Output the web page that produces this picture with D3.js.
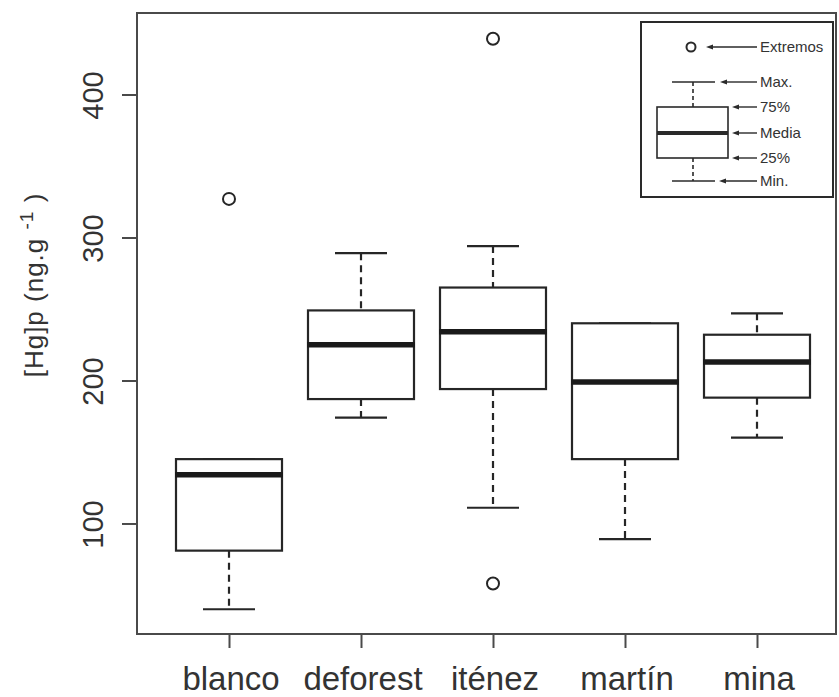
<!DOCTYPE html>
<html>
<head>
<meta charset="utf-8">
<script src="https://cdn.jsdelivr.net/npm/d3@7"></script>
<style>
    body { margin: 0; background: #fff; }
    svg { display: block; }
    text { font-family: "Liberation Sans", Arial, Helvetica, sans-serif; fill: #333; }
</style>
</head>
<body>
<div id="chart"></div>
<script>
// data
const categories = ['blanco', 'deforest', 'iténez', 'martín', 'mina'];
const minValues = [40, 174, 111, 89, 160];
const q1Values = [81, 187, 194, 145, 188];
const medianValues = [134, 225, 234, 199, 213];
const q3Values = [145, 249, 265, 240, 232];
const maxValues = [145, 289, 294, 240, 247];
const outlierValues = [[327], [], [58, 439], [], []];
const yTicks = [100, 200, 300, 400];
const legendLabels = ['Extremos', 'Max.', '75%', 'Media', '25%', 'Min.'];

class BoxPlotChart {
    constructor() {
        this._width = 839;
        this._height = 697;
        this._yTitle = '[Hg]p (ng.g';

        // plot frame
        this._frame = { top: 13, right: 836, bottom: 634, left: 137 };
    }

    call(selection) {
        let outerThis = this;
        let f = outerThis._frame;

        let rows = categories.map((c, i) => ({
            name: c,
            min: minValues[i],
            q1: q1Values[i],
            median: medianValues[i],
            q3: q3Values[i],
            max: maxValues[i],
            outliers: outlierValues[i]
        }));

        let xScale = d3.scalePoint().domain(categories).range([229, 757]);
        let yScale = d3.scaleLinear().domain([22.7, 457]).range([f.bottom, f.top]);
        let boxHalf = 53;
        let capHalf = 26;

        let svg = selection.append('svg')
            .attr('width', outerThis._width)
            .attr('height', outerThis._height);

        // frame
        svg.append('rect')
            .attr('x', f.left)
            .attr('y', f.top)
            .attr('width', f.right - f.left)
            .attr('height', f.bottom - f.top)
            .attr('fill', 'none')
            .attr('stroke', '#4a4a4a')
            .attr('stroke-width', 2);

        // x axis
        let xAxis = d3.axisBottom(xScale).tickSize(14).tickPadding(0).tickFormat('');
        let xAxisG = svg.append('g')
            .attr('transform', `translate(0, ${f.bottom})`)
            .call(xAxis);
        xAxisG.select('.domain').remove();
        xAxisG.selectAll('line').attr('stroke', '#4a4a4a').attr('stroke-width', 2);

        svg.append('g').selectAll('text')
            .data(categories)
            .join('text')
            .attr('x', d => xScale(d) + 2)
            .attr('y', 690)
            .attr('text-anchor', 'middle')
            .style('font-size', '33px')
            .text(d => d);

        // y axis
        let yAxis = d3.axisLeft(yScale).tickValues(yTicks).tickSize(15).tickFormat('');
        let yAxisG = svg.append('g')
            .attr('transform', `translate(${f.left}, 0)`)
            .call(yAxis);
        yAxisG.select('.domain').remove();
        yAxisG.selectAll('line').attr('stroke', '#4a4a4a').attr('stroke-width', 2);

        svg.append('g').selectAll('text')
            .data(yTicks)
            .join('text')
            .attr('transform', d => `translate(103, ${yScale(d) + 1}) rotate(-90)`)
            .attr('text-anchor', 'middle')
            .style('font-size', '29px')
            .text(d => d);

        let yTitle = svg.append('text')
            .attr('transform', 'translate(43, 285) rotate(-90)')
            .attr('text-anchor', 'middle')
            .style('font-size', '26px')
            .style('letter-spacing', '1px');
        yTitle.append('tspan').text(outerThis._yTitle + ' ');
        yTitle.append('tspan').attr('dy', -10).style('font-size', '19px').text('-1');
        yTitle.append('tspan').attr('dy', 10).text(' )');

        // boxes
        let boxes = svg.append('g').selectAll('g')
            .data(rows)
            .join('g')
            .attr('stroke', '#262626')
            .attr('fill', 'none');

        boxes.append('line')
            .attr('x1', d => xScale(d.name)).attr('x2', d => xScale(d.name))
            .attr('y1', d => yScale(d.max)).attr('y2', d => yScale(d.q3))
            .attr('stroke-width', 2.2)
            .attr('stroke-dasharray', '7,5');
        boxes.append('line')
            .attr('x1', d => xScale(d.name)).attr('x2', d => xScale(d.name))
            .attr('y1', d => yScale(d.q1)).attr('y2', d => yScale(d.min))
            .attr('stroke-width', 2.2)
            .attr('stroke-dasharray', '7,5');

        // whisker caps
        boxes.selectAll('.cap')
            .data(d => [d.min, d.max].map(v => ({ name: d.name, v: v })))
            .join('line')
            .attr('class', 'cap')
            .attr('x1', d => xScale(d.name) - capHalf).attr('x2', d => xScale(d.name) + capHalf)
            .attr('y1', d => yScale(d.v)).attr('y2', d => yScale(d.v))
            .attr('stroke-width', 2.2);

        boxes.append('rect')
            .attr('x', d => xScale(d.name) - boxHalf)
            .attr('width', boxHalf * 2)
            .attr('y', d => yScale(d.q3))
            .attr('height', d => yScale(d.q1) - yScale(d.q3))
            .attr('fill', '#fff')
            .attr('stroke-width', 2.2);

        boxes.append('line')
            .attr('x1', d => xScale(d.name) - boxHalf - 1).attr('x2', d => xScale(d.name) + boxHalf + 1)
            .attr('y1', d => yScale(d.median)).attr('y2', d => yScale(d.median))
            .attr('stroke', '#1a1a1a')
            .attr('stroke-width', 5.5);

        boxes.selectAll('circle')
            .data(d => d.outliers.map(v => ({ name: d.name, v: v })))
            .join('circle')
            .attr('cx', d => xScale(d.name))
            .attr('cy', d => yScale(d.v))
            .attr('r', 6)
            .attr('stroke-width', 2);

        outerThis.drawLegend(svg);
    }

    // key box, top right
    drawLegend(svg) {
        let g = svg.append('g').attr('stroke', '#2a2a2a').attr('fill', 'none');
        let rowY = [47, 82, 107, 133, 158, 181];
        let tipX = [706, 720, 732, 732, 732, 719];
        let cx = 693;

        g.append('rect')
            .attr('x', 641).attr('y', 22)
            .attr('width', 192).attr('height', 175)
            .attr('stroke-width', 2);

        g.append('circle').attr('cx', 691).attr('cy', rowY[0]).attr('r', 4.5).attr('stroke-width', 2);

        g.append('line').attr('x1', cx).attr('x2', cx).attr('y1', rowY[1]).attr('y2', rowY[2])
            .attr('stroke-width', 1.6).attr('stroke-dasharray', '4,3');
        g.append('line').attr('x1', cx).attr('x2', cx).attr('y1', rowY[4]).attr('y2', rowY[5])
            .attr('stroke-width', 1.6).attr('stroke-dasharray', '4,3');
        [rowY[1], rowY[5]].forEach(y => {
            g.append('line').attr('x1', cx - 21).attr('x2', cx + 22).attr('y1', y).attr('y2', y).attr('stroke-width', 1.6);
        });
        g.append('rect').attr('x', 657).attr('y', rowY[2])
            .attr('width', 71).attr('height', rowY[4] - rowY[2])
            .attr('fill', '#fff').attr('stroke-width', 1.6);
        g.append('line').attr('x1', 657).attr('x2', 728).attr('y1', rowY[3]).attr('y2', rowY[3])
            .attr('stroke-width', 4);

        // arrows
        legendLabels.forEach((label, i) => {
            let y = rowY[i];
            g.append('line').attr('x1', tipX[i] + 5).attr('x2', 757).attr('y1', y).attr('y2', y).attr('stroke-width', 1.4);
            g.append('path')
                .attr('d', `M${tipX[i]},${y} l7,-2.5 l0,5 z`)
                .attr('fill', '#2a2a2a').attr('stroke', 'none');
            svg.append('text')
                .attr('x', 760).attr('y', y)
                .attr('dy', '0.35em')
                .style('font-size', '15px')
                .text(label);
        });
    }
}

let chart = new BoxPlotChart();
chart.call(d3.select('#chart'));
</script>
</body>
</html>
